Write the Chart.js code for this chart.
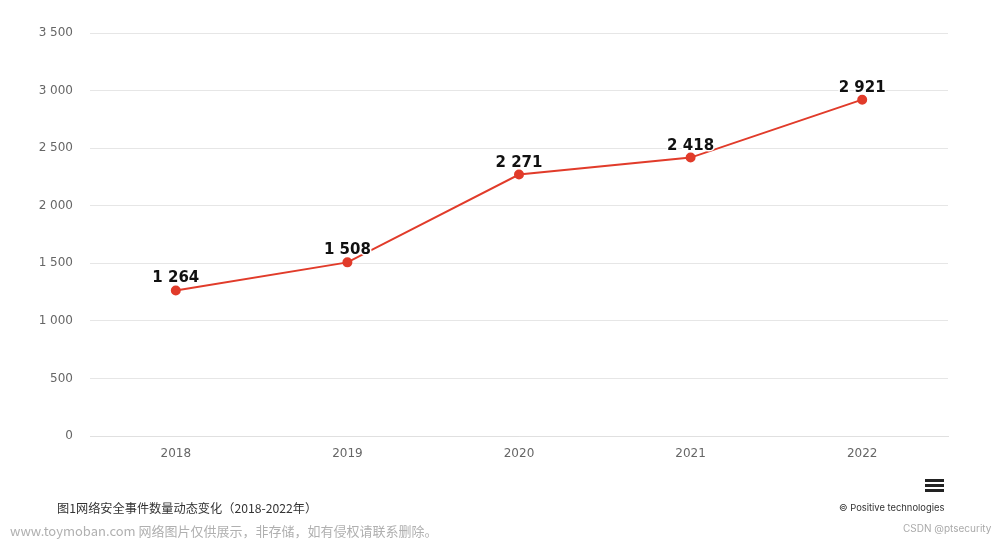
<!DOCTYPE html>
<html>
<head>
<meta charset="utf-8">
<script src="https://cdn.jsdelivr.net/npm/chart.js@4"></script>
<style>
    html, body { margin: 0; padding: 0; background: #fff; }
    #wrap { position: relative; width: 1000px; height: 539px; overflow: hidden; }
    #chart { position: absolute; left: 0; top: 0; }
    .txt { position: absolute; white-space: nowrap; font-family: "Noto Sans CJK SC", "Noto Sans", sans-serif; }
    #caption { left: 57px; top: 499px; font-size: 12.2px; color: #333; }
    #credit { left: 839px; top: 502px; font-size: 9.4px; color: #333; font-family: Inter, "Noto Sans", sans-serif; }
    #watermark { left: 10px; top: 521px; font-size: 13px; color: #b0b0b0; }
    #csdn { left: 903px; top: 522px; font-size: 10px; color: #aaa; font-family: Inter, "Noto Sans", sans-serif; }
    .bar { position: absolute; left: 925px; width: 19px; height: 3px; background: #222; }
</style>
</head>
<body>
<div id="wrap">
    <canvas id="chart" width="1000" height="539"></canvas>
    <div class="bar" style="top:479px"></div>
    <div class="bar" style="top:484px"></div>
    <div class="bar" style="top:489px"></div>
    <div class="txt" id="caption">图1网络安全事件数量动态变化（2018-2022年）</div>
    <div class="txt" id="credit">© Positive technologies</div>
    <div class="txt" id="watermark">www.toymoban.com 网络图片仅供展示，非存储，如有侵权请联系删除。</div>
    <div class="txt" id="csdn">CSDN @ptsecurity</div>
</div>

<script>
/* =======================
   DATI
======================= */

const anni = ["2018", "2019", "2020", "2021", "2022"];
const incidenti = [1264, 1508, 2271, 2418, 2921];
const tickY = [0, 500, 1000, 1500, 2000, 2500, 3000, 3500];

const ROSSO = "#e13b2a";

/* =======================
   UTILITIES
======================= */

function formatta(n) {
    // separatore delle migliaia con spazio
    return String(n).replace(/\B(?=(\d{3})+(?!\d))/g, " ");
}

// etichette sopra i punti
const etichette = {
    id: "etichette",
    afterDatasetsDraw(chart) {
        const ctx = chart.ctx;
        const meta = chart.getDatasetMeta(0);
        ctx.save();
        ctx.font = "bold 15px 'DejaVu Sans', sans-serif";
        ctx.textAlign = "center";
        ctx.textBaseline = "alphabetic";
        ctx.lineJoin = "round";
        meta.data.forEach((p, i) => {
            const t = formatta(incidenti[i]);
            ctx.lineWidth = 3;
            ctx.strokeStyle = "#fff";
            ctx.strokeText(t, p.x, p.y - 8);
            ctx.fillStyle = "#111";
            ctx.fillText(t, p.x, p.y - 8);
        });
        ctx.restore();
    }
};

/* =======================
   GRAFICO
======================= */

new Chart(document.getElementById("chart").getContext("2d"), {
    type: "line",
    data: {
        labels: anni,
        datasets: [{
            data: incidenti,
            borderColor: ROSSO,
            backgroundColor: ROSSO,
            pointBackgroundColor: ROSSO,
            pointBorderColor: ROSSO,
            borderWidth: 2,
            pointRadius: 4,
            tension: 0
        }]
    },
    options: {
        responsive: false,
        animation: false,
        layout: { padding: { top: 33, right: 52, bottom: 0, left: 0 } },
        plugins: {
            legend: { display: false },
            tooltip: { enabled: false }
        },
        scales: {
            x: {
                offset: true,
                grid: { display: false, drawTicks: false },
                border: { display: true, color: "#e0e0e0" },
                ticks: {
                    color: "#666",
                    font: { family: "'DejaVu Sans', sans-serif", size: 12 },
                    padding: 11
                },
                afterFit: s => { s.height = 103; }
            },
            y: {
                min: 0,
                max: 3500,
                afterBuildTicks: s => { s.ticks = tickY.map(v => ({ value: v })); },
                grid: { color: "#e6e6e6", drawTicks: false },
                border: { display: false },
                ticks: {
                    color: "#666",
                    font: { family: "'DejaVu Sans', sans-serif", size: 12 },
                    padding: 17,
                    callback: v => formatta(v)
                },
                afterFit: s => { s.width = 90; }
            }
        }
    },
    plugins: [etichette]
});
</script>
</body>
</html>
